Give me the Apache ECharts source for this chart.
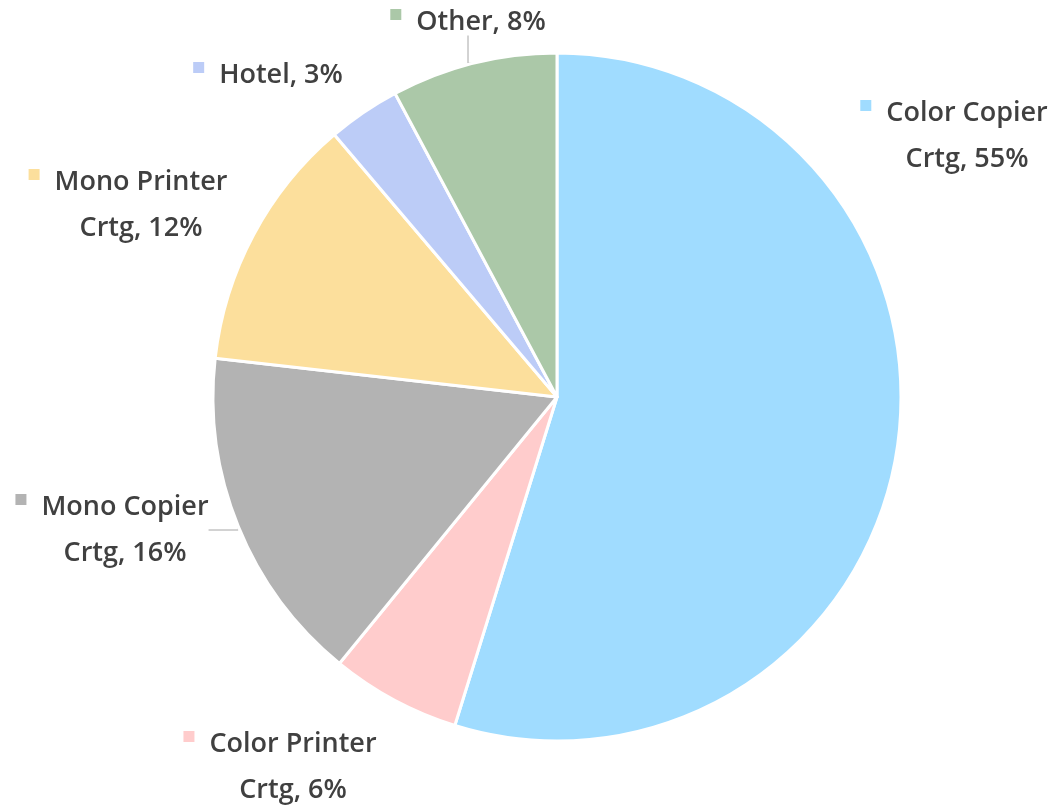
<!DOCTYPE html>
<html><head><meta charset="utf-8">
<script src="https://cdn.jsdelivr.net/npm/echarts@6/dist/echarts.min.js"></script>
<style>html,body{margin:0;padding:0;background:#fff}#c{width:1056px;height:808px}</style>
</head><body><div id="c"></div>
<script>
const categories = ['Color Copier Crtg','Color Printer Crtg','Mono Copier Crtg','Mono Printer Crtg','Hotel','Other'];
const values = [54.8, 6.1, 15.9, 12.0, 3.4, 7.8];
const colors = ['#A0DCFF','#FFCCCC','#B3B3B3','#FCDF9C','#BCCCF7','#ABC8A8'];
const showLine = [false, false, true, false, false, true];
// label anchor: text center x, first-line center y
const labelPos = [[967,111],[293,742],[125,505],[141,180],[281,73],[481,20]];

const MARK = 11, GAP = 15;
const FONT = {fontSize: 27, fontWeight: 600, fontFamily: 'Open Sans', color: '#404040'};
const rich = {
  g: {width: GAP},
  s: {width: MARK + GAP},
  t: Object.assign({lineHeight: 26}, FONT),
  t2: Object.assign({lineHeight: 66}, FONT)
};
colors.forEach((c, i) => {
  rich['m' + i] = {width: MARK, height: MARK, backgroundColor: c, verticalAlign: 'top'};
});

const data = categories.map((n, i) => ({
  name: n, value: values[i],
  itemStyle: {color: colors[i]},
  labelLine: {show: showLine[i]}
}));

const chart = echarts.init(document.getElementById('c'));
chart.setOption({
  animation: false,
  series: [{
    type: 'pie',
    center: [557, 397],
    radius: 344,
    startAngle: 90,
    clockwise: true,
    percentPrecision: 0,
    data: data,
    itemStyle: {borderColor: '#fff', borderWidth: 3},
    label: {
      show: true,
      position: 'outside',
      overflow: 'none',
      rich: rich,
      align: 'center',
      formatter: p => {
        const i = p.dataIndex;
        const m = '{m' + i + '|}{g|}';
        if (p.name.endsWith(' Crtg')) {
          return m + '{t|' + p.name.replace(' Crtg', '') + '}\n{s|}{t2|Crtg, ' + p.percent + '%}';
        }
        return m + '{t|' + p.name + ', ' + p.percent + '%}';
      }
    },
    labelLine: {show: false, lineStyle: {color: '#A6A6A6', width: 1}},
    labelLayout: p => {
      const pos = labelPos[p.dataIndex];
      return {x: pos[0] - (MARK + GAP) / 2, y: pos[1] - 11, align: 'center', verticalAlign: 'top'};
    }
  }]
});
</script></body></html>
